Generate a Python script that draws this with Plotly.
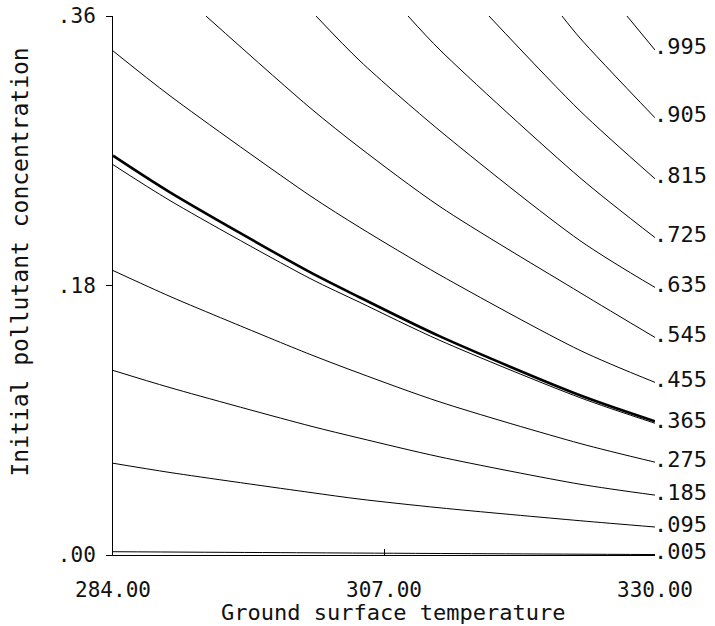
import plotly.graph_objects as go

# Contour levels (labels at the right end of each curve)
levels = [".005", ".095", ".185", ".275", ".365", ".455", ".545", ".635", ".725", ".815", ".905", ".995"]

# Ground surface temperature (T) / initial pollutant concentration (C)
T_005 = [284.00, 307.00, 330.00]
C_005 = [0.0022, 0.0012, 0.0003]
T_095 = [284.00, 288.84, 300.72, 304.96, 311.75, 323.63, 330.00]
C_095 = [0.0613, 0.0551, 0.0418, 0.0373, 0.0315, 0.0229, 0.0187]
T_185 = [284.00, 288.84, 300.72, 304.96, 311.75, 323.63, 330.00]
C_185 = [0.1233, 0.1118, 0.0862, 0.0780, 0.0655, 0.0473, 0.0400]
T_275 = [284.00, 288.84, 293.68, 300.72, 304.96, 311.75, 323.63, 330.00]
C_275 = [0.1900, 0.1727, 0.1567, 0.1340, 0.1213, 0.1022, 0.0745, 0.0620]
T_365 = [284.00, 288.84, 300.72, 304.96, 311.75, 323.63, 330.00]
C_365 = [0.2607, 0.2367, 0.1847, 0.1687, 0.1433, 0.1051, 0.0880]
T_bold = [284.00, 288.84, 300.72, 304.96, 311.75, 323.63, 330.00]
C_bold = [0.2667, 0.2422, 0.1889, 0.1720, 0.1460, 0.1067, 0.0893]
T_455 = [284.00, 288.84, 300.72, 304.96, 311.75, 323.63, 330.00]
C_455 = [0.3367, 0.3067, 0.2400, 0.2187, 0.1870, 0.1367, 0.1153]
T_545 = [291.89, 300.72, 304.96, 311.75, 323.63, 330.00]
C_545 = [0.3600, 0.2987, 0.2720, 0.2327, 0.1753, 0.1453]
T_635 = [301.23, 304.96, 311.75, 323.63, 330.00]
C_635 = [0.3600, 0.3300, 0.2833, 0.2100, 0.1787]
T_725 = [309.04, 311.75, 323.63, 330.00]
C_725 = [0.3600, 0.3373, 0.2520, 0.2120]
T_815 = [315.91, 323.63, 330.00]
C_815 = [0.3600, 0.2967, 0.2513]
T_905 = [322.11, 323.63, 330.00]
C_905 = [0.3600, 0.3453, 0.2920]
T_995 = [327.62, 330.00]
C_995 = [0.3600, 0.3373]

x_ticks = [284, 307, 330]
x_ticktext = ["284.00", "307.00", "330.00"]
y_ticks = [0, 0.18, 0.36]
y_ticktext = [".00", ".18", ".36"]

curves = [
    (T_005, C_005), (T_095, C_095), (T_185, C_185), (T_275, C_275),
    (T_365, C_365), (T_455, C_455), (T_545, C_545), (T_635, C_635),
    (T_725, C_725), (T_815, C_815), (T_905, C_905), (T_995, C_995),
]

FONT = "DejaVu Sans Mono"
fig = go.Figure()

for (t, c) in curves:
    fig.add_trace(go.Scatter(x=t, y=c, mode="lines",
                             line=dict(color="black", width=1, shape="spline", smoothing=0.8),
                             showlegend=False, hoverinfo="skip"))

fig.add_trace(go.Scatter(x=T_bold, y=C_bold, mode="lines",
                         line=dict(color="black", width=2.6, shape="spline", smoothing=0.8),
                         showlegend=False, hoverinfo="skip"))

annotations = []
for lab, (t, c) in zip(levels, curves):
    annotations.append(dict(x=t[-1], y=c[-1], xref="x", yref="y", text=lab,
                            showarrow=False, xanchor="left", yanchor="middle",
                            xshift=-3, yshift=3,
                            font=dict(family=FONT, size=22, color="#111")))

annotations.append(dict(x=0.517, y=-0.106, xref="paper", yref="paper",
                        text="Ground surface temperature", showarrow=False,
                        xanchor="center", yanchor="middle",
                        font=dict(family=FONT, size=22, color="#111")))
annotations.append(dict(x=-0.172, y=0.544, xref="paper", yref="paper",
                        text="Initial pollutant concentration", showarrow=False,
                        textangle=-90, xanchor="center", yanchor="middle",
                        font=dict(family=FONT, size=23, color="#111")))

fig.update_layout(
    width=715, height=626,
    margin=dict(l=113, r=60, t=16, b=71, autoexpand=False),
    paper_bgcolor="white", plot_bgcolor="white",
    annotations=annotations,
    xaxis=dict(range=[284, 330], tickvals=x_ticks, ticktext=x_ticktext,
               showgrid=False, zeroline=False, showline=True, linecolor="black",
               linewidth=1, ticks="inside", ticklen=6, tickcolor="black",
               ticklabelstandoff=16, automargin=False, ticklabeloverflow="allow",
               tickfont=dict(family=FONT, size=21, color="#111")),
    yaxis=dict(range=[0, 0.36], tickvals=y_ticks, ticktext=y_ticktext,
               showgrid=False, zeroline=False, showline=True, linecolor="black",
               linewidth=1, ticks="outside", ticklen=6, tickcolor="black",
               ticklabelstandoff=6, automargin=False, ticklabeloverflow="allow",
               tickfont=dict(family=FONT, size=21, color="#111")),
)

fig.write_html("out.html", config={"displayModeBar": False})

# remove the browser's default page margin so the figure sits at the window origin
with open("out.html", "r", encoding="utf-8") as f:
    html = f.read()
html = html.replace("<body>", '<body style="margin:0">', 1)
with open("out.html", "w", encoding="utf-8") as f:
    f.write(html)
